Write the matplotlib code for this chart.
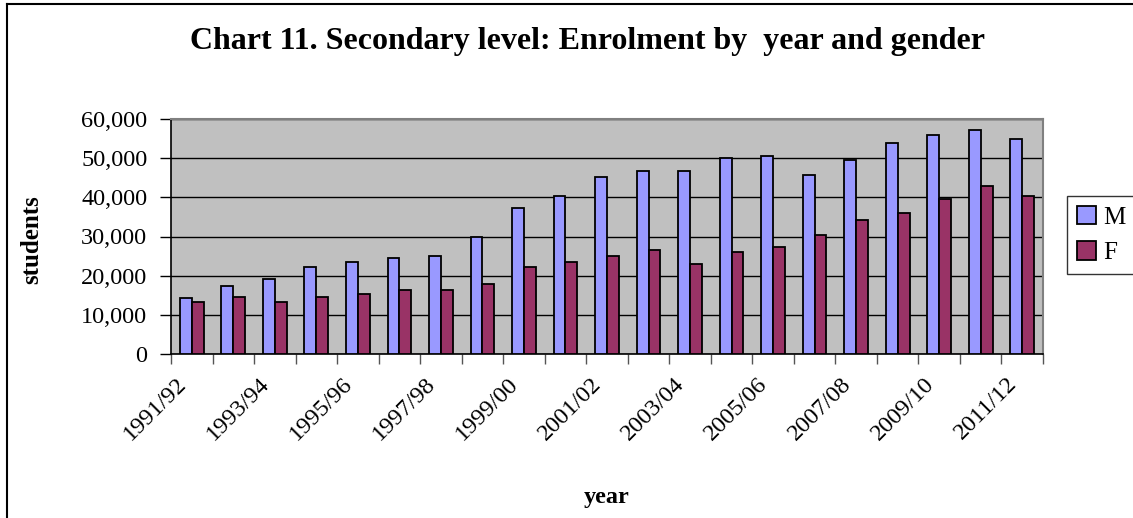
import numpy as np
import matplotlib.pyplot as plt
import matplotlib.transforms as mtransforms
from matplotlib.ticker import FuncFormatter
from matplotlib.lines import Line2D

years = ['1991/92', '1992/93', '1993/94', '1994/95', '1995/96', '1996/97', '1997/98',
         '1998/99', '1999/00', '2000/01', '2001/02', '2002/03', '2003/04', '2004/05',
         '2005/06', '2006/07', '2007/08', '2008/09', '2009/10', '2010/11', '2011/12']
male = [14400, 17300, 19100, 22100, 23500, 24500, 25000, 29900, 37400, 40300, 45200,
        46600, 46600, 50000, 50500, 45600, 49500, 53900, 55800, 57200, 54800]
female = [13400, 14500, 13400, 14500, 15400, 16300, 16300, 17800, 22100, 23500, 25000,
          26500, 23100, 26000, 27400, 30300, 34100, 36100, 39500, 42800, 40300]

plt.rcParams['font.family'] = ['Liberation Serif', 'DejaVu Serif']

W, H = 1133, 518
fig = plt.figure(figsize=(W / 100, H / 100), dpi=100)
ax = fig.add_axes([171 / W, 1 - 354 / H, (1043 - 171) / W, (354 - 119) / H])
ax.set_facecolor('#C0C0C0')

x = np.arange(len(years))
w = 1 / 3.5
ax.bar(x - w / 2, male, w, color='#9999FF', edgecolor='black', linewidth=1.3, label='M', zorder=3)
ax.bar(x + w / 2, female, w, color='#993366', edgecolor='black', linewidth=1.3, label='F', zorder=3)

ax.set_xlim(-0.5, len(years) - 0.5)
ax.set_ylim(0, 60000)
ax.set_yticks(np.arange(0, 60001, 10000))
ax.yaxis.set_major_formatter(FuncFormatter(lambda v, p: f'{int(v):,}'))
ax.grid(axis='y', color='black', linewidth=1, zorder=1)
ax.set_axisbelow(True)
ax.tick_params(axis='y', direction='out', length=8, width=1, labelsize=17.5, pad=9)

# ticks at category boundaries, labels every other category
ax.set_xticks(np.arange(-0.5, len(years), 1))
ax.set_xticklabels([])
ax.tick_params(axis='x', which='major', direction='out', length=7, width=1, color='#555555')
ax.set_xticks(x[::2], minor=True)
ax.set_xticklabels(years[::2], minor=True, rotation=45, ha='right', rotation_mode='anchor', fontsize=17.5)
ax.tick_params(axis='x', which='minor', length=0, pad=14)
shift = mtransforms.ScaledTranslation(-16 / 100, 0, fig.dpi_scale_trans)
for lab in ax.get_xticklabels(minor=True):
    lab.set_transform(lab.get_transform() + shift)

for s in ['top', 'right']:
    ax.spines[s].set_color('#808080')
    ax.spines[s].set_linewidth(1.5)
for s in ['left', 'bottom']:
    ax.spines[s].set_color('black')
    ax.spines[s].set_linewidth(1.2)

fig.text(587 / W, 1 - 41 / H, 'Chart 11. Secondary level: Enrolment by  year and gender',
         ha='center', va='center', fontsize=23, fontweight='bold')
fig.text(32 / W, 1 - 240 / H, 'students', rotation=90, ha='center', va='center',
         fontsize=18, fontweight='bold')
fig.text(607 / W, 1 - 498 / H, 'year', ha='center', va='center', fontsize=17.5, fontweight='bold')

leg = fig.legend(loc='upper left', bbox_to_anchor=(1067 / W, 1 - 196 / H), fontsize=18,
                 frameon=True, fancybox=False, edgecolor='black', handlelength=0.75,
                 handleheight=0.75, handletextpad=0.3, borderpad=0.4, labelspacing=0.5,
                 borderaxespad=0)
leg.get_frame().set_linewidth(1)

# outer chart border (top and left visible)
fig.add_artist(Line2D([7 / W, 7 / W], [0, 1 - 4 / H], transform=fig.transFigure, color='black', linewidth=1.5))
fig.add_artist(Line2D([7 / W, 1], [1 - 4 / H, 1 - 4 / H], transform=fig.transFigure, color='black', linewidth=1.5))

fig.savefig('out.png', dpi=100)
